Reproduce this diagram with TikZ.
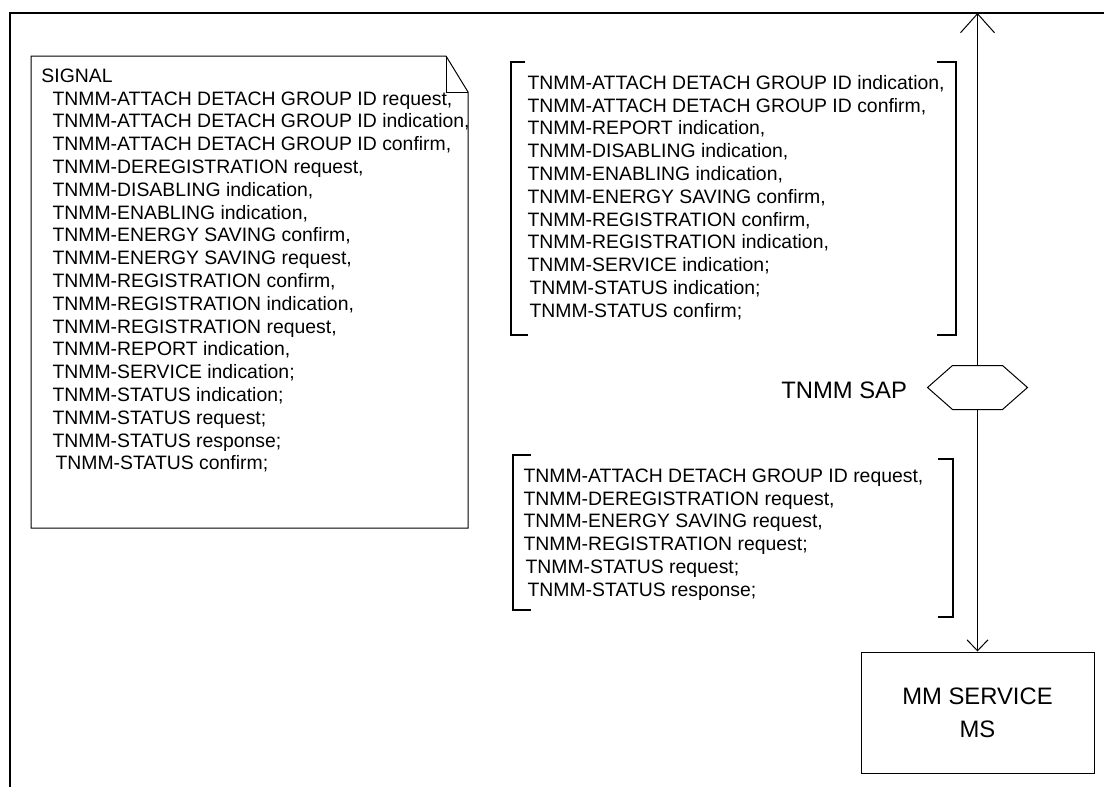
\documentclass[tikz,border=0pt]{standalone}
\usepackage{fontspec}
\setmainfont{Liberation Sans}
\usetikzlibrary{arrows.meta,positioning}

\begin{document}
\begin{tikzpicture}[
    x=1pt, y=-1pt,
    line width=1pt,
    every node/.style={inner sep=0pt, font=\fontsize{19.4}{22.8}\selectfont},
    siglist/.style={align=left, anchor=north west},
    bigtext/.style={font=\fontsize{23.8}{33}\selectfont},
    mmbox/.style={
        draw,
        align=center,
        bigtext,
        minimum width=233pt,
        minimum height=121pt
    },
    sapbox/.style={minimum width=99pt, minimum height=43pt},
    frame/.style={line width=2.8pt},
    bracket/.style={line width=1.3pt},
    uparrow/.style={-{Straight Barb[length=19pt,width=34pt]}},
    downarrow/.style={-{Straight Barb[length=11pt,width=21pt]}}
]
  \useasboundingbox (0,0) rectangle (1104,787);
  \draw[frame] (10,787) -- (10,13) -- (1104,13);

  % signal declaration
  \draw (31,56) -- (446,56) -- (468,92) -- (468,528) -- (31,528) -- cycle;
  \draw (446,56) -- (446,92) -- (468,92);
  \node[siglist] (sigtitle) at (41,68.2) {SIGNAL};
  \node[siglist] (siglist) at (52,91) {TNMM-ATTACH DETACH GROUP ID request,\\
    TNMM-ATTACH DETACH GROUP ID indication,\\
    TNMM-ATTACH DETACH GROUP ID confirm,\\
    TNMM-DEREGISTRATION request,\\
    TNMM-DISABLING indication,\\
    TNMM-ENABLING indication,\\
    TNMM-ENERGY SAVING confirm,\\
    TNMM-ENERGY SAVING request,\\
    TNMM-REGISTRATION confirm,\\
    TNMM-REGISTRATION indication,\\
    TNMM-REGISTRATION request,\\
    TNMM-REPORT indication,\\
    TNMM-SERVICE indication;\\
    TNMM-STATUS indication;\\
    TNMM-STATUS request;\\
    TNMM-STATUS response;\\
    \hspace*{3pt}TNMM-STATUS confirm;};

  % signals up
  \node[siglist] (uplist) at (527,74.7) {TNMM-ATTACH DETACH GROUP ID indication,\\
    TNMM-ATTACH DETACH GROUP ID confirm,\\
    TNMM-REPORT indication,\\
    TNMM-DISABLING indication,\\
    TNMM-ENABLING indication,\\
    TNMM-ENERGY SAVING confirm,\\
    TNMM-REGISTRATION confirm,\\
    TNMM-REGISTRATION indication,\\
    TNMM-SERVICE indication;\\
    \hspace*{2pt}TNMM-STATUS indication;\\
    \hspace*{2pt}TNMM-STATUS confirm;};
  \draw[bracket] (525,62) -- (511,62) -- (511,335) -- (528,335);
  \draw[bracket] (937,62) -- (956,62) -- (956,335) -- (937,335);

  % signals down
  \node[siglist] (downlist) at (523,468.2) {TNMM-ATTACH DETACH GROUP ID request,\\
    TNMM-DEREGISTRATION request,\\
    TNMM-ENERGY SAVING request,\\
    TNMM-REGISTRATION request;\\
    \hspace*{2pt}TNMM-STATUS request;\\
    \hspace*{4pt}TNMM-STATUS response;};
  \draw[bracket] (531,455) -- (513,455) -- (513,610) -- (531,610);
  \draw[bracket] (938,459) -- (953,459) -- (953,617) -- (938,617);

  % SAP and service block
  \coordinate (env) at (977.5,13);
  \node[sapbox] (sap) at (977.5,387.5) {};
  \draw (sap.west) -- ([xshift=25pt]sap.north west) -- ([xshift=-25pt]sap.north east)
    -- (sap.east) -- ([xshift=-25pt]sap.south east) -- ([xshift=25pt]sap.south west) -- cycle;
  \node[bigtext, left=20pt of sap, yshift=-3pt] (saplabel) {TNMM SAP};
  \node[mmbox] (mms) at (977.5,712.5) {MM SERVICE\\MS};

  \draw[uparrow] (sap.north) -- (env);
  \draw[downarrow] (sap.south) -- (mms.north);
\end{tikzpicture}
\end{document}
